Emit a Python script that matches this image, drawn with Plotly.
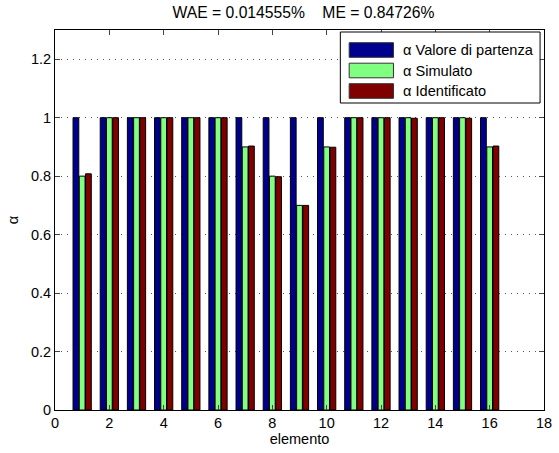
import plotly.graph_objects as go

# Element indices and alpha values per series
elementi = list(range(1, 17))
alpha_partenza = [1.0] * 16
alpha_simulato = [0.80, 1.0, 1.0, 1.0, 1.0, 1.0, 0.90, 0.80, 0.70, 0.90, 1.0, 1.0, 1.0, 1.0, 1.0, 0.90]
alpha_identificato = [0.808, 1.0, 1.0, 1.0, 1.0, 1.0, 0.903, 0.798, 0.70, 0.899, 1.0, 1.0, 0.998, 1.0, 0.998, 0.903]

serie_nomi = ["α Valore di partenza", "α Simulato", "α Identificato"]
serie_colori = ["#00008F", "#80FF80", "#800000"]
serie_valori = [alpha_partenza, alpha_simulato, alpha_identificato]

x_ticks = list(range(0, 19, 2))
y_ticks = [0, 0.2, 0.4, 0.6, 0.8, 1.0, 1.2]
y_tick_labels = ["0", "0.2", "0.4", "0.6", "0.8", "1", "1.2"]

FONT = "Liberation Sans, Arial, Helvetica, sans-serif"
FS = 14.5
FS_LEG = 14.6
FS_TITLE = 15.7

fig = go.Figure()
for nome, colore, valori in zip(serie_nomi, serie_colori, serie_valori):
    fig.add_trace(go.Bar(
        x=elementi, y=valori, name=nome,
        marker=dict(color=colore, line=dict(color="black", width=1)),
        showlegend=False,
    ))

# Boxed legend in the upper-right corner of the axes
lx0, lx1, ly0, ly1 = 345, 548, 32, 103
W, H = 559, 453
L, R, T, B = 55, 7, 30, 43
pw, ph = W - L - R, H - T - B

def px(x):
    return (x - L) / pw

def py(y):
    return 1 - (y - T) / ph

shapes = [dict(type="rect", xref="paper", yref="paper",
               x0=px(lx0), x1=px(lx1), y0=py(ly1), y1=py(ly0),
               line=dict(color="black", width=1), fillcolor="white", layer="above")]
annotations = []
for i, (nome, colore) in enumerate(zip(serie_nomi, serie_colori)):
    yc = 50 + i * 20.5
    shapes.append(dict(type="rect", xref="paper", yref="paper",
                       x0=px(354), x1=px(399), y0=py(yc + 7.3), y1=py(yc - 7.3),
                       line=dict(color="#333333", width=1), fillcolor=colore, layer="above"))
    annotations.append(dict(xref="paper", yref="paper", x=px(407), y=py(yc),
                            text=nome, showarrow=False, xanchor="left", yanchor="middle",
                            font=dict(family=FONT, size=FS_LEG, color="black")))

fig.update_layout(
    width=W, height=H,
    margin=dict(l=L, r=R, t=T, b=B),
    paper_bgcolor="white", plot_bgcolor="white",
    barmode="group", bargap=0.31, bargroupgap=0.08,
    font=dict(family=FONT, size=FS, color="black"),
    title=dict(text="WAE = 0.014555%\u00a0\u00a0\u00a0\u00a0ME = 0.84726%",
               x=(L + pw / 2) / W, xanchor="center", y=1 - 13 / H, yanchor="middle",
               font=dict(family=FONT, size=FS_TITLE, color="black")),
    shapes=shapes,
    annotations=annotations,
    xaxis=dict(range=[0, 18], tickvals=x_ticks, ticks="inside", ticklen=5,
               showline=True, linecolor="black", linewidth=1, mirror="ticks",
               showgrid=False, zeroline=False, ticklabeloverflow="allow",
               title=dict(text="elemento", standoff=0, font=dict(family=FONT, size=FS))),
    yaxis=dict(range=[0, 1.3], tickvals=y_ticks, ticktext=y_tick_labels,
               ticks="inside", ticklen=5,
               showline=True, linecolor="black", linewidth=1, mirror="ticks",
               showgrid=True, gridcolor="#555555", griddash="1px,5px", gridwidth=1,
               zeroline=False,
               title=dict(text="α", standoff=8, font=dict(family=FONT, size=FS))),
)

fig.write_html("out.html")
